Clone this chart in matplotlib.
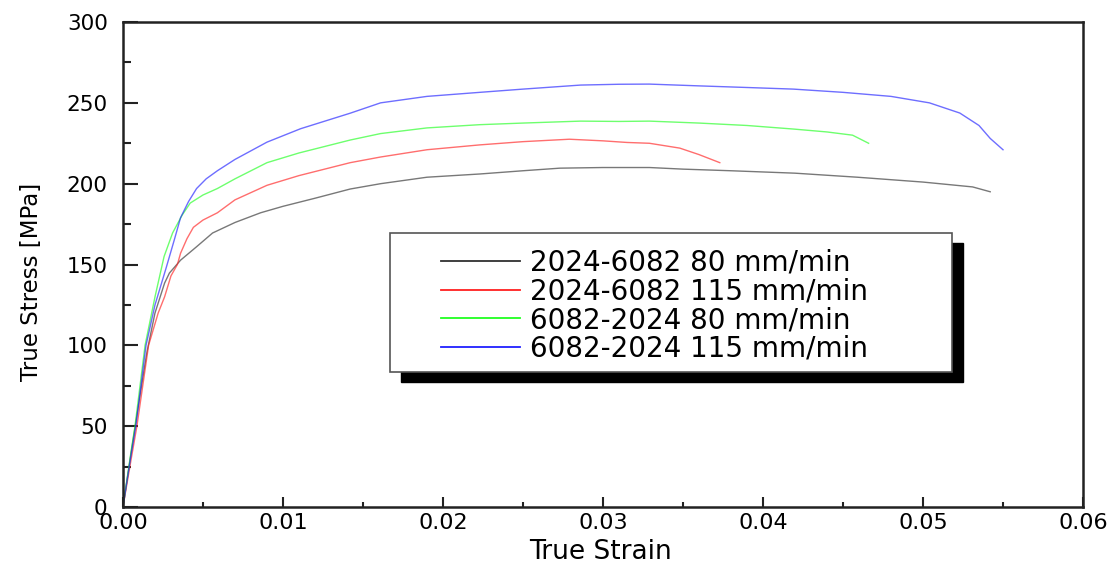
from matplotlib import pyplot as plt
from matplotlib.patches import Rectangle
from matplotlib.ticker import MultipleLocator

# 2024-6082 80 mm/min
strain_a = [0, 0.0005, 0.0010, 0.0015, 0.0020, 0.0026, 0.0029, 0.0036, 0.0046, 0.0056, 0.0070,
            0.0086, 0.0100, 0.0120, 0.0142, 0.0161, 0.0190, 0.0223, 0.0250, 0.0273, 0.0300,
            0.0329, 0.0350, 0.0380, 0.0420, 0.0459, 0.0500, 0.0531, 0.0542]
stress_a = [0, 33, 65, 96, 120, 138.5, 144.7, 152.7, 161, 169.5, 176,
            182, 186, 191, 196.7, 200, 204, 206, 208, 209.6, 210,
            210, 209, 208, 206.5, 204, 201, 198, 195]

# 2024-6082 115 mm/min
strain_b = [0, 0.0005, 0.00087, 0.0016, 0.0022, 0.0026, 0.0030, 0.0034, 0.0036, 0.0040, 0.0044,
            0.0050, 0.0059, 0.0070, 0.0090, 0.0110, 0.0142, 0.0161, 0.0190, 0.0223, 0.0250,
            0.0279, 0.0300, 0.0315, 0.0329, 0.0348, 0.0360, 0.0373]
stress_b = [0, 29, 50, 100, 120, 130, 143, 150, 157, 166, 173,
            177.5, 182, 190, 199, 205, 213, 216.5, 221, 224, 226,
            227.5, 226.5, 225.5, 225, 222, 218, 213]

# 6082-2024 80 mm/min
strain_c = [0, 0.0005, 0.00075, 0.00138, 0.0020, 0.00257, 0.0031, 0.0037, 0.0042, 0.0050, 0.0059,
            0.0070, 0.0090, 0.0110, 0.0142, 0.0161, 0.0190, 0.0223, 0.0250, 0.0286, 0.0310,
            0.0329, 0.0360, 0.0390, 0.0419, 0.0440, 0.0456, 0.0466]
stress_c = [0, 34, 50, 100, 130, 155, 169.5, 180.6, 188, 193, 197,
            203, 213, 219, 227, 231, 234.5, 236.5, 237.5, 238.7, 238.5,
            238.7, 237.5, 236, 233.8, 232, 230, 225]

# 6082-2024 115 mm/min
strain_d = [0, 0.0005, 0.0008, 0.00144, 0.0020, 0.0027, 0.0032, 0.0036, 0.0041, 0.0046, 0.0052,
            0.0059, 0.0070, 0.0090, 0.0111, 0.0142, 0.0161, 0.0190, 0.0223, 0.0250, 0.0286,
            0.0310, 0.0329, 0.0360, 0.0390, 0.0419, 0.0450, 0.0480, 0.0504, 0.0523, 0.0535,
            0.0542, 0.0550]
stress_d = [0, 32, 50, 100, 125, 148, 165, 179, 189, 197, 203,
            208, 215, 225.7, 234, 243.6, 250, 254, 256.5, 258.5, 261,
            261.5, 261.6, 260.5, 259.5, 258.5, 256.5, 254, 250, 243.7, 236,
            228, 221]

labels = ["2024-6082 80 mm/min", "2024-6082 115 mm/min",
          "6082-2024 80 mm/min", "6082-2024 115 mm/min"]
colors = ["#303030", "#ff2020", "#20ff20", "#2020ff"]

plt.rcParams['font.family'] = ['DejaVu Sans']

fig = plt.figure(figsize=(11.18, 5.66), dpi=100)
ax = fig.add_axes([0.110, 0.1042, 0.8587, 0.8569])

series = [(strain_a, stress_a), (strain_b, stress_b), (strain_c, stress_c), (strain_d, stress_d)]
for (x, y), lab, col in zip(series, labels, colors):
    ax.plot(x, y, color=col, lw=1.0, alpha=0.65, label=lab)

ax.set_xlim(0, 0.06)
ax.set_ylim(0, 300)
ax.xaxis.set_major_locator(MultipleLocator(0.01))
ax.xaxis.set_minor_locator(MultipleLocator(0.005))
ax.yaxis.set_major_locator(MultipleLocator(50))
ax.yaxis.set_minor_locator(MultipleLocator(25))
ax.xaxis.set_major_formatter(lambda v, p: f"{v:.2f}")

ax.tick_params(axis='y', which='major', direction='in', length=10.5, width=1.5,
               labelsize=15.5, pad=11, color='#222222')
ax.tick_params(axis='y', which='minor', direction='in', length=5.5, width=1.5, color='#222222')
ax.tick_params(axis='x', which='major', direction='in', length=7, width=1.5,
               labelsize=16, pad=4, color='#222222')
ax.tick_params(axis='x', which='minor', direction='in', length=3.5, width=1.5, color='#222222')
for s in ax.spines.values():
    s.set_linewidth(1.8)
    s.set_color('#222222')

ax.set_xlabel("True Strain", fontsize=19)
ax.set_ylabel("True Stress [MPa]", fontsize=16.5)
ax.xaxis.set_label_coords(0.497, -0.066)
ax.yaxis.set_label_coords(-0.0833, 0.464)

# legend frame with a solid shadow, drawn by hand
px_x = 1 / 960
px_y = 1 / 485
ax.add_patch(Rectangle((0.278 + 11 * px_x, 0.278 - 10 * px_y), 0.5855, 0.287,
                       transform=ax.transAxes, facecolor='black', edgecolor='black', zorder=4))
ax.add_patch(Rectangle((0.278, 0.278), 0.5855, 0.287, transform=ax.transAxes,
                       facecolor='white', edgecolor='#555555', lw=1.2, zorder=5))

leg = ax.legend(loc='upper left', bbox_to_anchor=(0.331, 0.532), frameon=False,
                fontsize=20, borderpad=0, borderaxespad=0, labelspacing=0.02,
                handlelength=2.85, handletextpad=0.35)
leg.set_zorder(6)
for line in leg.get_lines():
    line.set_alpha(1)
    line.set_linewidth(1.3)

plt.savefig("out.png", dpi=100)
plt.close()
